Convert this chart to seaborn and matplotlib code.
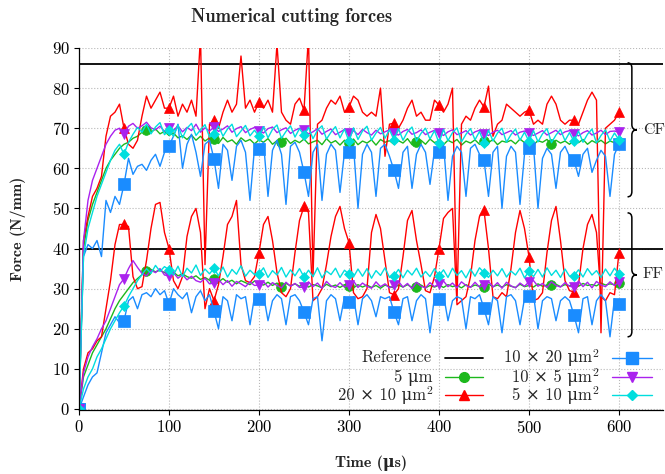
import matplotlib
matplotlib.use("Agg")
import matplotlib.pyplot as plt
from matplotlib.path import Path
from matplotlib.patches import PathPatch
from matplotlib.lines import Line2D
import numpy as np
import seaborn as sns

# sample times (µs), one value every 5 µs
time_us = np.arange(0, 605, 5)

# reference levels
ref_cf = 86
ref_ff = 40

# cutting force CF (N/mm)
cf_5um = [0, 40, 47, 51, 54, 57, 60, 62, 63.5, 65,
          66, 66.5, 67.5, 68, 69, 69.5, 69, 69.8, 68.6, 69.2,
          68.2, 68.8, 67.6, 68.1, 67.2, 68.3, 67.0, 68.0, 66.8, 67.6,
          67.3, 66.2, 67.7, 66.6, 67.1, 66.0, 67.6, 66.7, 67.2, 66.1,
          67.1, 66.5, 67.4, 66.0, 66.9, 66.6, 67.5, 66.2, 67.0, 66.4,
          67.3, 66.1, 66.6, 67.0, 65.9, 67.4, 66.3, 66.9, 65.8, 67.0,
          66.4, 67.3, 65.9, 66.8, 66.3, 67.1, 65.8, 67.2, 66.5, 66.9,
          66.0, 66.9, 66.3, 67.4, 65.9, 66.6, 67.0, 66.0, 67.3, 66.4,
          66.9, 65.9, 67.0, 66.4, 67.2, 65.8, 66.8, 66.3, 67.1, 66.0,
          66.9, 66.4, 67.2, 65.9, 66.8, 66.5, 67.0, 66.1, 67.3, 66.4,
          66.8, 65.9, 66.9, 66.5, 67.2, 66.0, 67.0, 66.3, 66.8, 66.0,
          67.0, 66.4, 67.2, 66.0, 66.9, 66.3, 67.0, 66.1, 66.8, 66.4,
          66.5]
cf_20x10 = [0, 42, 48, 53, 55, 58, 68, 73, 74, 76,
            70, 66, 65, 67, 73, 78, 75, 77, 79, 75,
            75, 78, 73, 76, 74, 77, 73, 93, 36, 71,
            72, 70, 74, 77, 74, 76, 88, 75, 77, 74,
            76.5, 75, 77, 74, 91, 74, 72, 71, 76, 77.5,
            74.5, 93, 33, 71, 72, 75, 77, 76, 78, 74,
            75.3, 78, 77, 74, 73, 74, 73, 80, 63, 71,
            71.3, 70, 72, 75, 77, 73, 74, 72, 72, 77,
            75.8, 74, 76, 80, 27, 71, 73, 72, 75, 77,
            75.3, 80.5, 68, 71, 72, 76, 75, 74, 73, 74,
            74.5, 71, 72, 71, 76, 78, 76, 72, 71, 72,
            72, 71, 74, 77, 79, 77, 19, 70, 71, 72,
            74]
cf_10x20 = [0, 38, 41, 40, 42, 38, 52, 49, 53, 51,
            56, 62.5, 58.5, 60.5, 61, 59.5, 62, 63.5, 60.5, 64,
            65.6, 68, 71, 60, 66, 68.5, 64, 58, 66, 67,
            62.3, 55, 66, 64.5, 57, 65.5, 67, 64, 52, 65,
            64.8, 66.5, 53, 64.5, 67, 63.5, 51, 65.5, 66.5, 64,
            59, 53, 64, 66, 52, 63.5, 66, 64.5, 54, 64,
            64, 65.5, 50, 63.5, 66, 64, 53, 65, 66, 63,
            59.5, 55, 64, 65.5, 55, 63.5, 66, 64, 56, 64.5,
            64, 66, 52, 63, 65.5, 64, 53, 65, 66, 63.5,
            62, 53, 64, 65.5, 50, 63, 65.5, 64, 51, 63.5,
            65, 65.5, 50, 62.5, 65, 63.5, 55, 64, 65.5, 63,
            62, 58, 63.5, 65, 59, 62, 64.5, 63, 53, 63.5,
            66]
cf_10x5 = [0, 42, 52, 57, 60, 63, 66, 68, 69.5, 70,
           68.5, 70.5, 71.2, 70.0, 70.6, 71.5, 70.1, 69.6, 70.5, 69.2,
           70.0, 69.5, 70.6, 69.1, 70.2, 69.4, 71.0, 69.0, 70.1, 69.3,
           70.3, 69.2, 69.8, 70.6, 69.0, 69.9, 70.4, 68.9, 69.7, 70.2,
           69.4, 68.8, 69.9, 70.3, 68.9, 69.6, 70.1, 68.7, 69.5, 70.0,
           69.5, 68.6, 69.1, 69.9, 68.5, 69.2, 69.8, 68.4, 69.0, 69.7,
           68.7, 69.4, 68.4, 69.7, 68.9, 68.3, 69.5, 68.6, 69.1, 69.6,
           68.7, 68.3, 69.2, 69.7, 68.5, 68.9, 69.6, 68.4, 69.0, 69.5,
           68.8, 68.2, 69.1, 69.6, 68.4, 68.8, 69.4, 68.3, 69.1, 69.5,
           68.6, 68.2, 69.0, 69.5, 68.4, 68.9, 69.4, 68.3, 69.0, 69.3,
           68.7, 68.2, 68.8, 69.4, 68.3, 68.9, 69.5, 68.4, 69.1, 69.4,
           68.6, 68.1, 68.9, 69.4, 68.3, 68.8, 69.5, 68.4, 69.2, 69.3,
           69.0]
cf_5x10 = [0, 38, 45, 49, 53, 56, 59, 62, 64.5, 66,
           63.5, 66.5, 68.5, 70.2, 69.0, 71.0, 68.6, 70.3, 71.4, 68.4,
           69.5, 68.0, 70.8, 67.6, 70.0, 71.2, 68.2, 69.6, 70.9, 67.8,
           68.5, 70.6, 68.0, 69.8, 71.0, 67.9, 69.3, 70.7, 68.1, 69.5,
           68.0, 70.4, 67.6, 69.7, 70.8, 67.5, 69.2, 70.6, 67.8, 69.9,
           68.3, 70.2, 67.4, 69.5, 70.6, 67.3, 69.0, 70.4, 67.6, 69.8,
           66.7, 70.1, 67.2, 69.3, 70.5, 67.0, 68.8, 70.2, 67.5, 69.6,
           67.1, 69.9, 67.0, 69.1, 70.3, 66.8, 68.7, 70.0, 67.3, 69.4,
           66.3, 69.7, 66.9, 68.9, 70.1, 66.6, 68.5, 69.9, 67.1, 69.2,
           66.3, 69.5, 66.8, 68.8, 70.0, 66.5, 68.4, 69.8, 67.0, 69.0,
           66.7, 69.4, 66.6, 68.6, 69.9, 66.4, 68.3, 69.7, 66.9, 68.9,
           66.7, 69.3, 66.5, 68.5, 69.8, 66.3, 68.2, 69.6, 66.8, 68.8,
           67.1]

# feed force FF (N/mm)
ff_5um = [0, 8, 11, 14, 16, 18, 20, 22.5, 25, 27,
          28.5, 30, 31.5, 32.5, 33.5, 34.5, 34.8, 34.2, 34.6, 34.0,
          33.6, 34.1, 33.2, 33.7, 33.0, 32.6, 33.2, 32.3, 32.8, 32.1,
          32.3, 31.7, 32.5, 31.6, 32.1, 31.2, 32.0, 31.5, 31.0, 31.9,
          31.3, 30.9, 31.6, 30.8, 31.4, 30.5, 31.3, 30.7, 31.2, 30.6,
          31.2, 30.4, 31.0, 30.7, 30.2, 31.1, 30.5, 30.9, 30.3, 31.0,
          30.6, 30.2, 31.0, 30.4, 30.9, 30.3, 30.8, 30.1, 30.9, 30.5,
          30.2, 30.9, 30.4, 31.0, 30.3, 30.5, 30.9, 30.2, 30.8, 30.4,
          30.9, 30.3, 31.0, 30.5, 30.8, 30.2, 31.0, 30.4, 30.9, 30.6,
          30.3, 31.1, 30.5, 30.9, 30.4, 31.0, 30.6, 30.3, 31.1, 30.5,
          30.8, 30.4, 31.2, 30.6, 30.9, 30.8, 31.1, 30.5, 31.0, 30.7,
          31.2, 30.6, 31.3, 30.8, 31.0, 30.7, 31.4, 30.9, 31.2, 31.0,
          31.5]
ff_20x10 = [0, 10, 14, 15, 17, 18, 25, 32, 41, 46,
            46, 45.5, 33, 30, 30.5, 37, 45, 51, 51.5, 44,
            40, 32, 30, 33, 43, 48, 50, 44, 25, 30,
            27, 31, 38, 46, 48, 52, 36, 32, 31.5, 33,
            39, 46, 48, 42, 34, 29, 28, 30, 39, 47,
            50.5, 49, 27, 28, 30, 36, 43, 48, 50.5, 45,
            41.5, 29, 27.5, 28, 30, 44, 48.5, 45, 37, 29,
            28.5, 30, 38, 47, 49.5, 42, 36, 29.5, 29, 33,
            40, 47.5, 49, 50, 26, 27, 28, 33, 42, 48,
            49.5, 40, 28, 27.5, 29, 28, 35, 44, 49.5, 45,
            38, 27, 27.5, 29, 39, 47, 50.5, 42, 32, 29.5,
            29.2, 31, 40, 46, 48.5, 44, 28, 27, 29, 28.5,
            39]
ff_10x20 = [0, 3, 6, 8, 9, 14, 19, 21, 23, 21.5,
            22, 27, 28, 25, 28.5, 29, 28, 30, 28.5, 29.5,
            26.2, 30, 28.5, 27.5, 29, 24, 28, 29.5, 27, 28.5,
            24.4, 20, 28, 27, 22, 28.5, 27.5, 28, 21, 28,
            27.4, 28.5, 22, 27, 28.5, 27.5, 21, 28, 28.5, 27,
            24.2, 21, 27.5, 28, 17, 27, 28.5, 27.5, 22, 28,
            26.7, 28, 21, 27.5, 28.5, 27, 23, 28, 27.5, 28,
            24.2, 21, 27.5, 28, 22, 27, 28.5, 27.5, 19, 28,
            27.4, 28.5, 22, 27, 28, 27.5, 20, 28, 27.5, 28.5,
            25.1, 21, 28, 27, 19, 28, 28.5, 27, 21, 27.5,
            28.2, 28.5, 20, 27, 28, 27.5, 22, 27, 28, 27,
            23.4, 19, 27.5, 28, 21, 27, 28.5, 27, 18, 27.5,
            26.2]
ff_10x5 = [0, 9, 13, 15.5, 17.5, 20, 22, 25, 28, 31,
           32.5, 35.0, 37.0, 35.3, 33.8, 33.2, 34.6, 34.0, 35.0, 33.4,
           33.2, 34.0, 32.6, 33.5, 32.2, 33.1, 32.0, 31.6, 32.6, 31.2,
           31.4, 32.3, 31.0, 32.0, 30.6, 31.8, 31.2, 30.5, 31.7, 30.8,
           30.9, 31.8, 30.4, 31.5, 30.8, 30.2, 31.6, 30.6, 31.3, 30.3,
           30.4, 31.7, 30.5, 31.4, 30.1, 31.8, 30.7, 30.3, 31.5, 30.4,
           31.0, 31.9, 30.3, 31.4, 30.6, 30.1, 31.7, 30.5, 31.2, 30.2,
           30.8, 31.8, 30.4, 31.3, 30.0, 31.6, 30.6, 30.2, 31.5, 30.5,
           31.2, 31.9, 30.5, 31.4, 30.2, 31.7, 30.8, 30.3, 31.6, 30.4,
           31.0, 31.8, 30.4, 31.5, 30.1, 31.6, 30.7, 30.2, 31.4, 30.6,
           31.7, 32.0, 30.6, 31.3, 30.3, 31.7, 30.8, 30.4, 31.5, 30.6,
           30.4, 31.9, 30.5, 31.6, 30.2, 31.8, 30.9, 30.5, 31.7, 30.8,
           31.7]
ff_5x10 = [0, 5, 8, 10, 13, 15, 17.5, 20, 22, 24,
           25.7, 28, 30, 32, 33.5, 35.0, 33.8, 35.8, 34.3, 35.5,
           34.7, 33.4, 35.6, 33.0, 35.1, 33.9, 35.9, 33.3, 34.9, 33.7,
           35.1, 33.2, 35.4, 32.9, 34.8, 33.6, 35.7, 33.1, 34.6, 33.5,
           33.7, 35.2, 32.8, 34.5, 33.4, 35.3, 32.9, 34.7, 33.2, 35.0,
           32.9, 34.6, 33.0, 35.2, 32.7, 34.4, 33.5, 35.1, 32.8, 34.6,
           33.6, 32.9, 34.9, 33.1, 35.0, 32.6, 34.5, 33.3, 35.2, 32.8,
           33.2, 34.8, 32.7, 34.6, 33.4, 35.1, 32.9, 34.3, 33.0, 35.0,
           33.2, 34.7, 32.8, 35.1, 33.3, 34.5, 32.7, 34.9, 33.1, 35.2,
           34.0, 32.8, 34.6, 33.2, 35.0, 32.9, 34.4, 33.4, 35.1, 32.7,
           34.3, 33.0, 34.8, 32.9, 35.2, 33.3, 34.6, 32.8, 34.9, 33.1,
           33.2, 34.7, 32.9, 35.0, 33.4, 34.5, 32.8, 34.9, 33.2, 35.1,
           33.6]

# legend labels: text and unit exponent (None = no exponent)
labels = ["5 \u03bcm", "20 × 10 \u03bcm", "10 × 20 \u03bcm", "10 × 5 \u03bcm", "5 × 10 \u03bcm"]
label_exp = [None, "2", "2", "2", "2"]
cf_series = [cf_5um, cf_20x10, cf_10x20, cf_10x5, cf_5x10]
ff_series = [ff_5um, ff_20x10, ff_10x20, ff_10x5, ff_5x10]
colors = ["#1cb81c", "#ff0000", "#1a8cff", "#aa22ee", "#00dede"]
markers = ["o", "^", "s", "v", "D"]
mark_every = [15, 10, 10, 10, 10]
mark_size = [7, 7, 8.5, 6.5, 5.5]

sns.set_theme(style="white")
plt.rcParams["font.family"] = ["cmr10", "DejaVu Serif"]
plt.rcParams["mathtext.fontset"] = "cm"
plt.rcParams["axes.formatter.use_mathtext"] = True
plt.rcParams["font.size"] = 12

W, H = 665, 474
fig = plt.figure(figsize=(W / 100, H / 100), dpi=100)
ax = fig.add_axes([78.5 / W, 64 / H, 584.5 / W, 362 / H])

ax.axhline(ref_cf, color="black", lw=1.3, zorder=1.5)
ax.axhline(ref_ff, color="black", lw=1.3, zorder=1.5)

for cf, ff, c, m, me, ms in zip(cf_series, ff_series, colors,
                                markers, mark_every, mark_size):
    for vals in (cf, ff):
        sns.lineplot(x=time_us, y=vals, ax=ax, color=c, lw=1.0, marker=m,
                     markevery=me, ms=ms, markeredgecolor=c, mew=0.5,
                     estimator=None, sort=False, legend=False)

ax.set_xlim(-0.55, 648.9)
ax.set_ylim(-0.25, 90)
ax.set_xticks(range(0, 700, 100))
ax.set_yticks(range(0, 100, 10))
ax.grid(True, ls=":", color="#b8b8b8", lw=0.8)
ax.set_axisbelow(True)
for s in ["top", "right"]:
    ax.spines[s].set_visible(False)
for s in ["left", "bottom"]:
    ax.spines[s].set_color("black")
    ax.spines[s].set_linewidth(0.9)
ax.tick_params(bottom=True, left=True, direction="out", length=3.5, width=0.8,
               colors="black", labelsize=12, pad=3)
ax.set_xlabel("")
ax.set_ylabel("")


def brace(x_end, x_stem, x_tip, top, bot, r):
    mid = (top + bot) / 2
    verts = [(x_end, top), (x_stem, top), (x_stem, top - r),
             (x_stem, mid + r), (x_stem, mid), (x_tip, mid),
             (x_stem, mid), (x_stem, mid - r),
             (x_stem, bot + r), (x_stem, bot), (x_end, bot)]
    codes = [Path.MOVETO, Path.CURVE3, Path.CURVE3,
             Path.LINETO, Path.CURVE3, Path.CURVE3,
             Path.CURVE3, Path.CURVE3,
             Path.LINETO, Path.CURVE3, Path.CURVE3]
    ax.add_patch(PathPatch(Path(verts, codes), fill=False, lw=1.1,
                           edgecolor="black", clip_on=False))


brace(609.5, 614.3, 619.8, 86.3, 52.9, 1.3)
brace(609.5, 614.3, 619.8, 48.9, 18.0, 1.3)
ax.text(626.5, 69.6, "CF", ha="left", va="center", fontsize=11.5, clip_on=False)
ax.text(626.5, 33.5, "FF", ha="left", va="center", fontsize=11.5, clip_on=False)

# legend, two columns, label left of its sample line (pixel layout)
entries = [("Reference", None, "black", None, 0, 1.3)]
entries += [(lab, ex, c, m, ms, 1.0)
            for lab, ex, c, m, ms in zip(labels, label_exp, colors, markers, mark_size)]
slots = [(432, 445, 483, 358), (432, 445, 483, 377), (432, 445, 483, 395),
         (598, 612, 652, 358), (598, 612, 652, 377), (598, 612, 652, 395)]
for (lab, ex, c, m, ms, lw), (xt, x1, x2, y) in zip(entries, slots):
    base = y + 4.5
    if ex:
        fig.text((xt - 6) / W, 1 - base / H, lab, ha="right", va="baseline", fontsize=12)
        fig.text((xt - 5.5) / W, 1 - (base - 5.5) / H, ex, ha="left", va="baseline",
                 fontsize=8.5)
    else:
        fig.text(xt / W, 1 - base / H, lab, ha="right", va="baseline", fontsize=12)
    fig.add_artist(Line2D([x1 / W, x2 / W], [1 - y / H] * 2,
                          transform=fig.transFigure, color=c, lw=lw))
    if m:
        fig.add_artist(Line2D([(x1 + x2) / 2 / W], [1 - y / H], transform=fig.transFigure,
                              ls="none", marker=m, ms=ms, color=c, mec=c))

fig.text(292 / W, 1 - 17 / H, "Numerical cutting forces", ha="center",
         va="center", family=["cmb10", "DejaVu Serif"], weight="bold", fontsize=13.3)
fig.text(18 / W, 1 - 229 / H, "Force (N/mm)", ha="center", va="center",
         rotation=90, family=["cmb10", "DejaVu Serif"], weight="bold", fontsize=11.5)
fig.text(371 / W, 1 - 463 / H, "Time (\u03bcs)", ha="center", va="center",
         family=["cmb10", "DejaVu Serif"], weight="bold", fontsize=11.5)

fig.savefig("out.png", dpi=100, facecolor="white")
